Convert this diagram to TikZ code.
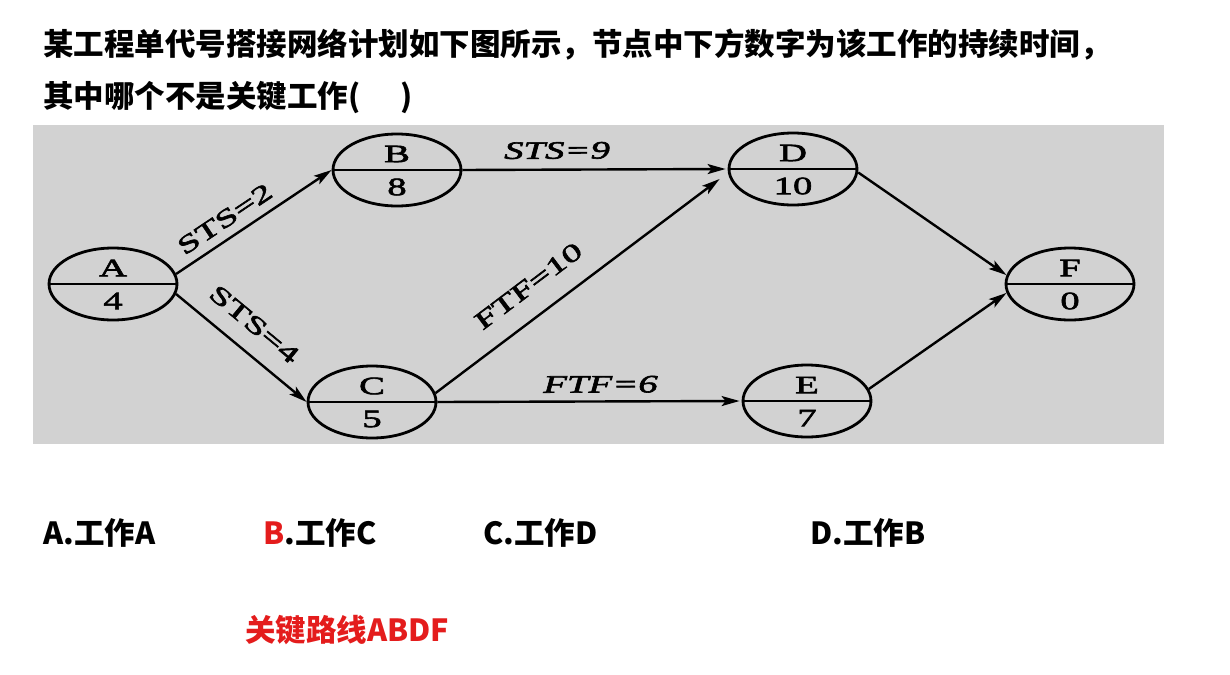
\documentclass[tikz,border=0pt]{standalone}
\usepackage{fontspec}
\usetikzlibrary{shapes.geometric,arrows.meta,calc}
\newfontfamily\cjk{Noto Sans CJK SC}
\newfontfamily\dgm[FakeStretch=1.55,FakeBold=2.5]{Liberation Serif}
\definecolor{panel}{RGB}{210,210,210}
\definecolor{answer}{RGB}{228,28,28}
\begin{document}
\begin{tikzpicture}[x=1pt,y=-1pt,
  task/.style={ellipse,draw,line width=2.8pt,minimum width=128pt,minimum height=72pt,inner sep=0pt},
  divider/.style={line width=2.6pt},
  tasktext/.style={font={\dgm\fontsize{25}{25}\selectfont},inner sep=0pt},
  link/.style={line width=2.4pt,-{Stealth[length=18pt,width=10pt,inset=4pt]}},
  linklabel/.style={font={\dgm\fontsize{25}{25}\selectfont},inner sep=0pt,sloped},
  linklabelit/.style={font={\dgm\itshape\fontsize{25}{25}\selectfont},inner sep=0pt,sloped},
  question/.style={font={\cjk\bfseries\fontsize{30.5}{30.5}\selectfont},anchor=west,inner sep=0pt},
]
\useasboundingbox (0,0) rectangle (1230,674);
\fill[white] (0,0) rectangle (1230,674);
\fill[panel] (33,125) rectangle (1164,444);

% tasks
\node[task] (A) at (113,284) {};
\node[task] (B) at (397,170) {};
\node[task] (C) at (372,402) {};
\node[task] (D) at (793,169) {};
\node[task] (E) at (807,401) {};
\node[task] (F) at (1070,284) {};
\foreach \n in {A,B,C,D,E,F}{\draw[divider] (\n.west) -- (\n.east);}
\node[tasktext] (An) at ($(A)+(0,-16)$) {A};
\node[tasktext] (Ad) at ($(A)+(0,17)$) {4};
\node[tasktext] (Bn) at ($(B)+(0,-16)$) {B};
\node[tasktext] (Bd) at ($(B)+(0,17)$) {8};
\node[tasktext] (Cn) at ($(C)+(0,-16)$) {C};
\node[tasktext] (Cd) at ($(C)+(0,17)$) {5};
\node[tasktext] (Dn) at ($(D)+(0,-16)$) {D};
\node[tasktext] (Dd) at ($(D)+(0,17)$) {10};
\node[tasktext] (En) at ($(E)+(0,-16)$) {E};
\node[tasktext] (Ed) at ($(E)+(0,17)$) {7};
\node[tasktext] (Fn) at ($(F)+(0,-16)$) {F};
\node[tasktext] (Fd) at ($(F)+(0,17)$) {0};

% links
\draw[link] (A.9) -- node[linklabel,above=9pt,pos=0.38] (l1) {STS=2} (B.west);
\draw[link] (A.-9) -- node[linklabel,above=17pt,pos=0.47] (l2) {STS=4} (C.west);
\draw[link] (B.east) -- node[linklabelit,above=9.5pt,pos=0.36] (l3) {STS=9} ($(D.west)+(-2,0)$);
\draw[link] (C.8) -- node[linklabel,above=20pt,pos=0.39] (l4) {FTF=10} ($(D.west)+(-8,10)$);
\draw[link] (C.east) -- node[linklabelit,above=7.5pt,pos=0.54] (l5) {FTF=6} ($(E.west)+(-2,0)$);
\draw[link] (D.-3) -- (F.172);
\draw[link] (E.11) -- (F.188);

% texts
\node[question] (q1) at (43,45) {某工程单代号搭接网络计划如下图所示，节点中下方数字为该工作的持续时间，};
\node[question] (q2) at (43,98) {其中哪个不是关键工作(\hspace{1.3em})};
\node[question] (oA) at (43,533) {A.工作A};
\node[question] (oB) at (263,533) {\textcolor{answer}{B}.工作C};
\node[question] (oC) at (483,533) {C.工作D};
\node[question] (oD) at (810,533) {D.工作B};
\node[question,text=answer] (path) at (245,630) {关键路线ABDF};
\end{tikzpicture}
\end{document}
